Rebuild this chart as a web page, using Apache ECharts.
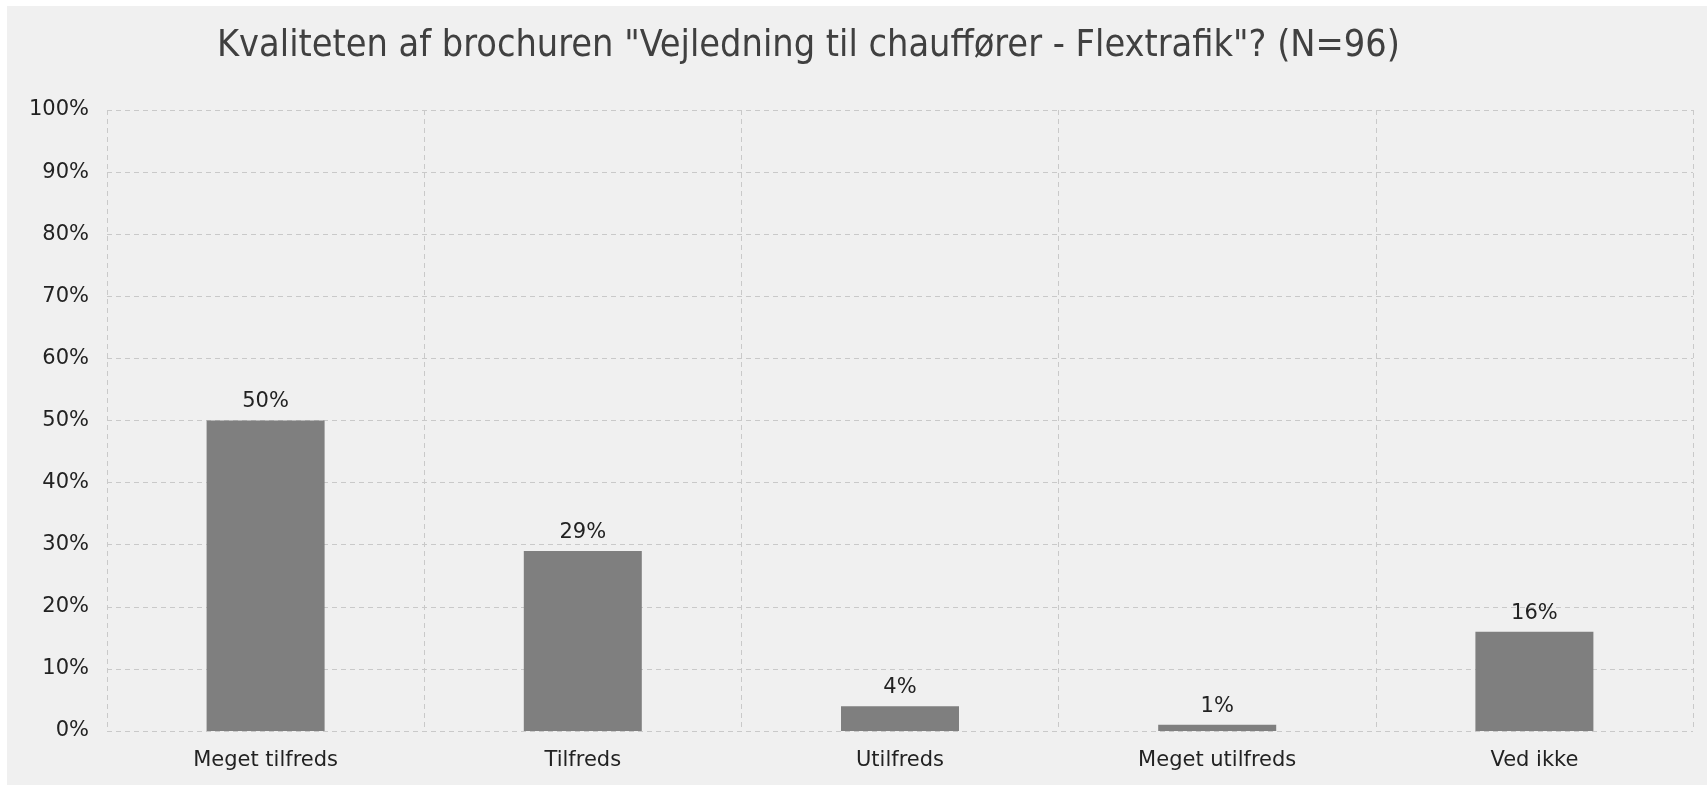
<!DOCTYPE html>
<html>
<head>
<meta charset="utf-8">
<script src="https://cdn.jsdelivr.net/npm/echarts@6/dist/echarts.min.js"></script>
<style>
  html, body { margin: 0; padding: 0; background: #fff; }
  #main {
    position: absolute;
    left: 7px;
    top: 6px;
    width: 1700px;
    height: 779px;
    background: #f0f0f0;
  }
</style>
</head>
<body>
<div id="main"></div>
<script>
const titleText = 'Kvaliteten af brochuren "Vejledning til chauffører - Flextrafik"? (N=96)';
const categories = ['Meget tilfreds', 'Tilfreds', 'Utilfreds', 'Meget utilfreds', 'Ved ikke'];
const percentages = [50, 29, 4, 1, 16];

const labelFont = 'DejaVu Sans, Verdana, sans-serif';
const gridLine = { show: true, lineStyle: { color: '#c9c9c9', type: [5, 4], width: 1 } };

const chart = echarts.init(document.getElementById('main'));

chart.setOption({
  backgroundColor: '#f0f0f0',
  title: {
    text: titleText,
    left: 210,
    top: 21,
    padding: 0,
    textStyle: {
      fontFamily: 'DejaVu Sans Condensed, DejaVu Sans, sans-serif',
      fontSize: 37.5,
      fontWeight: 'normal',
      color: '#404040'
    }
  },
  grid: { left: 100, right: 14, top: 104, bottom: 54 },
  xAxis: {
    type: 'category',
    data: categories,
    axisLine: { show: false },
    axisTick: { show: false },
    splitLine: gridLine,
    axisLabel: { color: '#222', fontSize: 21, fontFamily: labelFont, margin: 19 }
  },
  yAxis: {
    type: 'value',
    min: 0,
    max: 100,
    interval: 10,
    axisLine: { show: false },
    axisTick: { show: false },
    splitLine: gridLine,
    axisLabel: { formatter: '{value}%', color: '#222', fontSize: 21, fontFamily: labelFont, margin: 18 }
  },
  series: [{
    type: 'bar',
    data: percentages,
    barWidth: 118,
    itemStyle: { color: '#7f7f7f' },
    label: {
      show: true,
      position: 'top',
      distance: 8,
      formatter: '{c}%',
      color: '#222',
      fontSize: 21,
      fontFamily: labelFont
    }
  }]
});
</script>
</body>
</html>
